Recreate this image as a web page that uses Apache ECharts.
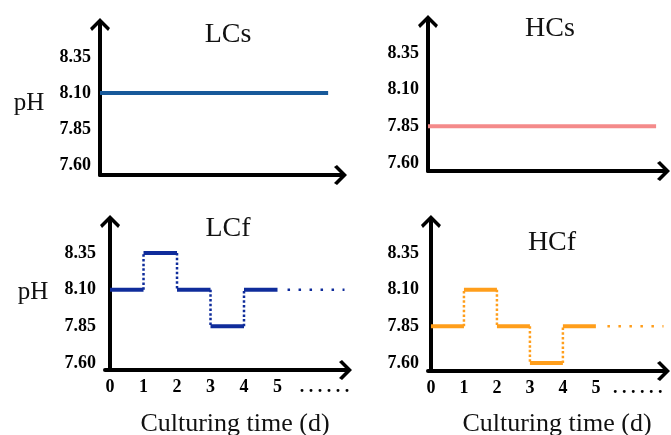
<!DOCTYPE html>
<html>
<head>
<meta charset="utf-8">
<script src="https://cdn.jsdelivr.net/npm/echarts@6/dist/echarts.min.js"></script>
<style>
html, body { margin: 0; padding: 0; background: #ffffff; }
#chart { width: 671px; height: 435px; }
</style>
</head>
<body>
<div id="chart"></div>
<script>
// values
var dayTicks = [0, 1, 2, 3, 4, 5];
var yTicks = [7.60, 7.85, 8.10, 8.35];
var lcsLevel = 8.10;
var hcsLevel = 7.85;
var lcsSpan = [0, 6.64];
var hcsSpan = [0, 6.78];
var lcfSteps = [8.10, 8.35, 8.10, 7.85, 8.10];
var hcfSteps = [7.85, 8.10, 7.85, 7.60, 7.85];
var lcfTail = [5.3, 7.0];
var hcfTail = [5.35, 7.05];
var dotsTick = [6.4, 6.27];

var serif = "'Liberation Serif', 'Times New Roman', serif";
var arrow = 'path://M0,0L10,10L8,13L0,5L-8,13L-10,10Z';

var grids = [
  { left: 100, top: 24.5, width: 240.5, height: 150.5 },
  { left: 428, top: 21.5, width: 235.5, height: 149.5 },
  { left: 105, top: 221.5, width: 240.5, height: 148.5 },
  { left: 428, top: 221.5, width: 235.5, height: 149.5 }
];
var yRanges = [[7.5306, 8.5757], [7.5455, 8.5647], [7.552, 8.5647], [7.5455, 8.5647]];
var xRanges = [[0, 7], [0, 7], [-0.15, 7.03], [-0.09, 7.05]];

function axisLine() {
  return {
    show: true,
    symbol: ['none', arrow],
    symbolSize: [20, 13],
    lineStyle: { color: '#000', width: 4 }
  };
}

var labelStyle = {
  fontFamily: serif, fontWeight: 'bold', fontSize: 18, color: '#000'
};

var xAxes = xRanges.map(function (r, i) {
  var withTicks = i >= 2;
  return {
    type: 'value', gridIndex: i, min: r[0], max: r[1],
    axisLine: axisLine(),
    axisTick: { show: false },
    splitLine: { show: false },
    axisLabel: Object.assign({
      show: withTicks,
      margin: 8,
      customValues: withTicks ? dayTicks.concat([dotsTick[i - 2]]) : [],
      formatter: function (v) { return v > 5 ? '. . . . . .' : String(v); }
    }, labelStyle)
  };
});

var yAxes = yRanges.map(function (r, i) {
  return {
    type: 'value', gridIndex: i, min: r[0], max: r[1],
    axisLine: axisLine(),
    axisTick: { show: false },
    splitLine: { show: false },
    axisLabel: Object.assign({
      margin: 9,
      customValues: yTicks,
      formatter: function (v) { return v.toFixed(2); }
    }, labelStyle)
  };
});

var series = [];
function seg(idx, pts, color, width, type) {
  series.push({
    type: 'line', xAxisIndex: idx, yAxisIndex: idx,
    data: pts, symbol: 'none', silent: true,
    lineStyle: { color: color, width: width, type: type, cap: 'butt' }
  });
}

seg(0, [[lcsSpan[0], lcsLevel], [lcsSpan[1], lcsLevel]], '#17599a', 4, 'solid');
seg(1, [[hcsSpan[0], hcsLevel], [hcsSpan[1], hcsLevel]], '#f48a8a', 4, 'solid');

function steps(idx, vals, tail, color) {
  vals.forEach(function (v, k) {
    seg(idx, [[dayTicks[k], v], [dayTicks[k + 1], v]], color, 4, 'solid');
    if (k > 0) {
      seg(idx, [[dayTicks[k], vals[k - 1]], [dayTicks[k], v]], color, 2.5, [2.5, 2.2]);
    }
  });
  var last = vals[vals.length - 1];
  seg(idx, [[tail[0], last], [tail[1], last]], color, 2.5, [2.5, 8.5]);
}
steps(2, lcfSteps, lcfTail, '#0f2c9b');
steps(3, hcfSteps, hcfTail, '#ff9e1b');

function label(text, x, y, size) {
  return {
    text: text, left: x, top: y, padding: 0,
    textAlign: 'center', textVerticalAlign: 'middle',
    textStyle: { fontFamily: serif, fontWeight: 'normal', fontSize: size, color: '#111' }
  };
}

var option = {
  animation: false,
  backgroundColor: '#ffffff',
  title: [
    label('LCs', 228, 35, 28),
    label('HCs', 550, 29, 28),
    label('LCf', 228, 229, 28),
    label('HCf', 552, 243, 28),
    label('pH', 29, 103, 25),
    label('pH', 33, 292, 25),
    label('Culturing time (d)', 235, 424, 26),
    label('Culturing time (d)', 557, 424, 26)
  ],
  grid: grids.map(function (g) {
    return Object.assign({ outerBoundsMode: 'none' }, g);
  }),
  xAxis: xAxes,
  yAxis: yAxes,
  series: series
};

var chart = echarts.init(document.getElementById('chart'));
chart.setOption(option);
</script>
</body>
</html>
